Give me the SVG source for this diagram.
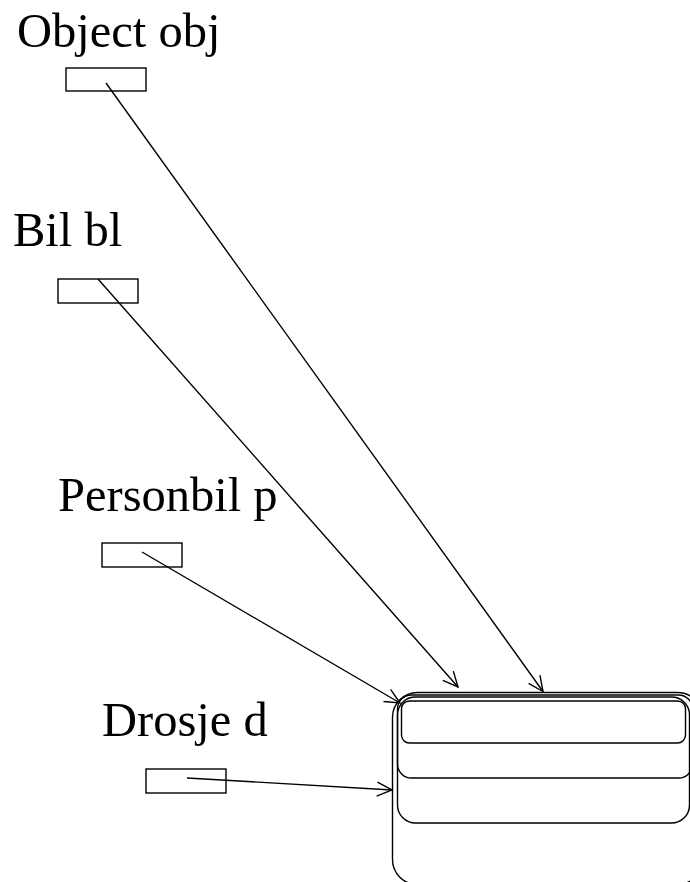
<svg xmlns="http://www.w3.org/2000/svg" width="690" height="882" viewBox="0 0 690 882">
<defs>
<style>
.lbl{font-family:"Liberation Serif","Times New Roman",serif;font-size:48.5px;fill:#000}
.box{fill:#fff;stroke:#000;stroke-width:1.4}
.frame{fill:none;stroke:#000;stroke-width:1.4}
.con{fill:none;stroke:#000;stroke-width:1.4}
</style>
<marker id="open" viewBox="0 0 20 20" refX="18" refY="10" markerWidth="20" markerHeight="20" markerUnits="userSpaceOnUse" orient="auto">
<path d="M3,3 L18,10 L3,17" fill="none" stroke="#000" stroke-width="1.4"/>
</marker>
</defs>
<rect width="690" height="882" fill="#fff"/>
<g id="target">
<rect class="frame" x="392.5" y="692.5" width="310" height="192" rx="25"/>
<rect class="frame" x="397.5" y="695" width="295" height="83" rx="14"/>
<rect class="frame" x="397.5" y="697" width="292" height="126" rx="18"/>
<rect class="frame" x="401.5" y="701" width="284" height="42" rx="8"/>
</g>
<g id="obj">
<text class="lbl" x="17" y="47">Object obj</text>
<rect class="box" x="66" y="68" width="80" height="23"/>
</g>
<g id="bl">
<text class="lbl" x="13" y="246">Bil bl</text>
<rect class="box" x="58" y="279" width="80" height="24"/>
</g>
<g id="p">
<text class="lbl" x="58" y="511">Personbil p</text>
<rect class="box" x="102" y="543" width="80" height="24"/>
</g>
<g id="d">
<text class="lbl" x="102" y="736">Drosje d</text>
<rect class="box" x="146" y="769" width="80" height="24"/>
</g>
<g id="connectors">
<line class="con" x1="106" y1="83" x2="543" y2="691.5" marker-end="url(#open)"/>
<line class="con" x1="98" y1="279" x2="458" y2="687" marker-end="url(#open)"/>
<line class="con" x1="142" y1="552" x2="400" y2="703" marker-end="url(#open)"/>
<line class="con" x1="187" y1="778" x2="392" y2="790" marker-end="url(#open)"/>
</g>
</svg>
